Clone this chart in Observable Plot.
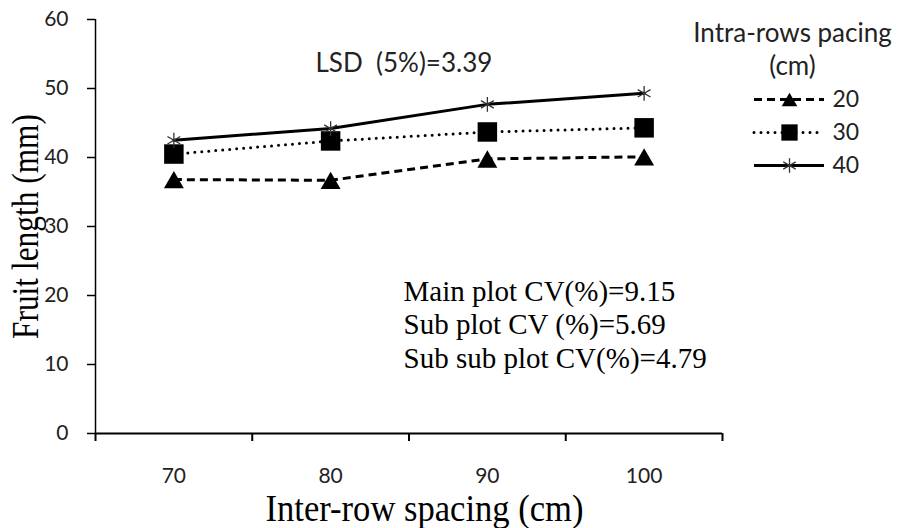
<!DOCTYPE html>
<html><head><meta charset="utf-8">
<script src="https://cdn.jsdelivr.net/npm/d3@7"></script>
<script src="https://cdn.jsdelivr.net/npm/@observablehq/plot@0.6"></script>
<style>
body{margin:0;background:#fff;}
#wrap{position:relative;width:900px;height:528px;overflow:hidden;}
#legend{position:absolute;left:680px;top:0;}
svg text{white-space:pre;}
</style></head><body><div id="wrap"><div id="main"></div><div id="legend"></div></div>
<script>
// ---- data ----
const interRow = [70, 80, 90, 100];           // Inter-row spacing (cm)
const intraRow = ["20", "30", "40"];           // Intra-row spacing (cm)
const len20 = [36.8, 36.7, 39.8, 40.1];        // fruit length (mm)
const len30 = [40.5, 42.4, 43.7, 44.3];
const len40 = [42.5, 44.2, 47.7, 49.3];
const yTicks = [0, 10, 20, 30, 40, 50, 60];
const xTickLabels = ["70", "80", "90", "100"];
const bandEdges = [65, 75, 85, 95, 105];
const lsdText = "LSD  (5%)=3.39";
const cvLines = ["Main plot CV(%)=9.15", "Sub plot CV (%)=5.69", "Sub sub plot CV(%)=4.79"];
const xTitle = "Inter-row spacing (cm)";
const yTitle = "Fruit length (mm)";
const legendTitle = ["Intra-rows pacing", "(cm)"];

const seriesVals = {"20": len20, "30": len30, "40": len40};
const rows = intraRow.flatMap(s => interRow.map((x, i) => ({s, x, y: seriesVals[s][i]})));
const of = s => rows.filter(d => d.s === s);

const lineStyle = {
  "20": {strokeDasharray: "8,5", strokeLinecap: "butt"},
  "30": {strokeDasharray: "0,7", strokeLinecap: "round"},
  "40": {}
};
const sans = "Lato, 'Open Sans', sans-serif";
const serif = "'Liberation Serif', 'Times New Roman', serif";

const chart = Plot.plot({
  width: 900, height: 528,
  marginLeft: 95, marginRight: 178, marginTop: 19, marginBottom: 95,
  style: {fontFamily: sans, background: "#fff", color: "#000"},
  x: {domain: [65, 105]},
  y: {domain: [0, 60]},
  marks: [
    Plot.axisY(yTicks, {label: null, tickSize: 8, tickPadding: 19, fontSize: 21, strokeWidth: 1.5, fill: "#222"}),
    Plot.axisX(bandEdges, {label: null, tickSize: 8, tickFormat: () => "", strokeWidth: 2}),
    Plot.axisX(interRow, {label: null, tickSize: 0, tickPadding: 35, fontSize: 21, fill: "#222",
      tickFormat: d => xTickLabels[interRow.indexOf(d)]}),
    Plot.ruleX([65], {strokeWidth: 1.5}),
    Plot.ruleY([0], {strokeWidth: 2}),
    ...intraRow.map(s => Plot.line(of(s), {x: "x", y: "y", stroke: "#000", strokeWidth: 3, ...lineStyle[s]})),
    Plot.dot(of("30"), {x: "x", y: "y", symbol: "square", r: 11, fill: "#000"}),
    Plot.dot(of("20"), {x: "x", y: "y", symbol: "triangle", r: 7.4, fill: "#000", dy: 3}),
    Plot.dot(of("40"), {x: "x", y: "y", symbol: "asterisk", r: 7, stroke: "#333", strokeWidth: 1.3}),
    Plot.text([lsdText], {frameAnchor: "top-left", dx: 220, dy: 52, textAnchor: "start", lineAnchor: "bottom",
      fontSize: 26, fill: "#222"}),
    Plot.text([cvLines.join("\n")], {frameAnchor: "top-left", dx: 308, dy: 348, textAnchor: "start", lineAnchor: "bottom",
      lineHeight: 1.15, fontSize: 29, fontFamily: serif, fill: "#000"}),
    Plot.text([xTitle], {frameAnchor: "bottom", dx: 15.5, dy: 87, textAnchor: "middle", lineAnchor: "bottom",
      fontSize: 37, fontFamily: serif, fill: "#000"}),
    Plot.text([yTitle], {frameAnchor: "left", dx: -58, rotate: -90, textAnchor: "middle", lineAnchor: "bottom",
      fontSize: 37, fontFamily: serif, fill: "#000"})
  ]
});
d3.select(chart).selectAll("text").filter(function() { return this.textContent === xTitle; })
  .attr("textLength", 318).attr("lengthAdjust", "spacingAndGlyphs");
d3.select(chart).selectAll("text").filter(function() { return this.textContent === yTitle; })
  .attr("textLength", 225).attr("lengthAdjust", "spacingAndGlyphs");
document.getElementById("main").append(chart);

// ---- legend ----
const legendMarker = {
  "20": {symbol: "triangle", r: 5.8, fill: "#000", dy: 2.3},
  "30": {symbol: "square", r: 9.2, fill: "#000"},
  "40": {symbol: "asterisk", r: 6.8, stroke: "#333", strokeWidth: 1.3}
};
const legend = Plot.plot({
  width: 220, height: 190,
  marginTop: 0, marginBottom: 0, marginLeft: 0, marginRight: 0,
  style: {fontFamily: sans, background: "transparent"},
  x: {domain: [0, 1], range: [74, 144], axis: null},
  y: {type: "point", domain: intraRow, range: [98, 165], padding: 0, axis: null},
  marks: [
    ...intraRow.map(s => Plot.ruleY([s], {x1: 0, x2: 1, stroke: "#000", strokeWidth: 3, ...lineStyle[s]})),
    ...intraRow.map(s => Plot.dot([s], {x: () => 0.5, y: d => d, ...legendMarker[s]})),
    Plot.text(intraRow, {x: () => 1, y: d => d, dx: 8, textAnchor: "start", fontSize: 23, fill: "#222"}),
    Plot.text([legendTitle.join("\n")], {frameAnchor: "top-left", dx: 112, dy: 74, textAnchor: "middle",
      lineAnchor: "bottom", lineHeight: 1.25, fontSize: 26, fill: "#222"})
  ]
});
document.getElementById("legend").append(legend);
</script>
</body></html>
